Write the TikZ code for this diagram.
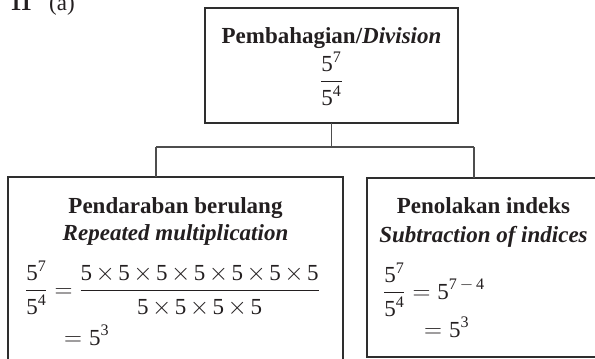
\documentclass[tikz,border=0pt]{standalone}
\usepackage{amsmath}
\usepackage{fontspec}
\setmainfont{Liberation Serif}
% digits in formulas are set in the text face
\newcommand{\dg}[1]{\text{#1}}
\newcommand{\fv}{\dg{5}}
\definecolor{ink}{HTML}{231F20}
\definecolor{rule}{HTML}{2E2E2E}
\tikzset{
  box/.style={draw=rule, line width=1.2pt, inner sep=0pt, outer sep=0pt},
  link/.style={draw=rule!85, line width=1.1pt},
  txt/.style={text=ink, inner sep=0pt, font=\fontsize{23}{27}\selectfont},
}
\begin{document}
\begin{tikzpicture}[x=1pt, y=-1pt]
\useasboundingbox (0,0) rectangle (595,359);

% question number
\node[txt, anchor=base west] (qnum) at (10,10) {\textbf{11}};
\node[txt, anchor=base west] (qpart) at (49,10) {(a)};

% boxes
\node[box, minimum width=253pt, minimum height=115pt] (top) at (331.5,65.5) {};
\node[box, minimum width=335pt, minimum height=198pt] (left) at (175.5,276) {};
\node[box, minimum width=233pt, minimum height=179pt] (right) at (483.5,267.5) {};

% connectors
\coordinate (jl) at (156,147);
\coordinate (jr) at (474,147);
\draw[link] (top.south) -- (top.south |- jl);
\draw[link] (jl) -- (jr);
\draw[link] (jl) -- (jl |- left.north);
\draw[link] (jr) -- (jr |- right.north);

% top box content
\node[txt, anchor=base] (toptitle) at (331.5,43) {\textbf{Pembahagian/\textit{Division}}};
\node[txt, anchor=base] (topfrac) at (331.5,88) {$\dfrac{\fv^{\dg{7}}}{\fv^{\dg{4}}}$};

% left box content
\node[txt, anchor=base] (lefttitle) at (175.5,213) {\textbf{Pendaraban berulang}};
\node[txt, anchor=base] (leftsub) at (175.5,240) {\textbf{\textit{Repeated multiplication}}};
\node[txt, anchor=base west] (lefteq) at (25,297)
  {\medmuskip=2.5mu $\dfrac{\fv^{\dg{7}}}{\fv^{\dg{4}}} = \dfrac{\fv\times\fv\times\fv\times\fv\times\fv\times\fv\times\fv}{\fv\times\fv\times\fv\times\fv}$};
\node[txt, anchor=base west] (leftres) at (64,345) {$= \fv^{\dg{3}}$};

% right box content
\node[txt, anchor=base] (righttitle) at (483.5,213) {\textbf{Penolakan indeks}};
\node[txt, anchor=base] (rightsub) at (483.5,242) {\textbf{\textit{Subtraction of indices}}};
\node[txt, anchor=base west] (righteq) at (383,299) {$\dfrac{\fv^{\dg{7}}}{\fv^{\dg{4}}} = \fv^{\dg{7}\,-\,\dg{4}}$};
\node[txt, anchor=base west] (rightres) at (424,337) {$= \fv^{\dg{3}}$};
\end{tikzpicture}
\end{document}
